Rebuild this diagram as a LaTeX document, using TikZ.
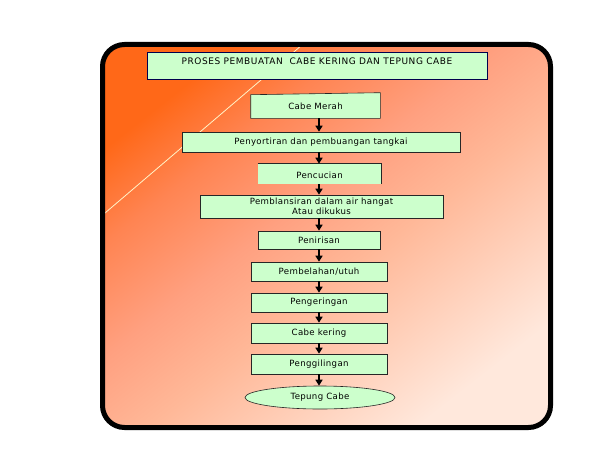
\documentclass[tikz,border=0pt]{standalone}
\usepackage{fontspec}
\setmainfont{DejaVu Sans}
\newfontfamily\boxfont[LetterSpace=4]{DejaVu Sans}
\newfontfamily\titlefont[LetterSpace=6]{DejaVu Sans}
\usetikzlibrary{arrows.meta,shapes.geometric}
\definecolor{boxgreen}{HTML}{CCFFCC}
\definecolor{orangeA}{HTML}{FF6818}
\definecolor{orangeM}{HTML}{FF8452}
\definecolor{orangeB}{HTML}{FFA080}
\definecolor{orangeD}{HTML}{FFB898}
\definecolor{orangeC}{HTML}{FFE8DC}
\definecolor{diagline}{HTML}{FFF4C8}
\pgfdeclareverticalshading{panelshade}{100bp}{color(0bp)=(orangeC); color(25bp)=(orangeC);
  color(45bp)=(orangeD); color(55bp)=(orangeB); color(66bp)=(orangeM); color(75bp)=(orangeA); color(100bp)=(orangeA)}
\tikzset{
  boxtext/.style={font=\boxfont\fontsize{8.6}{10.5}\selectfont, align=center},
  stepbox/.style={draw=black!85, line width=0.6pt, fill=boxgreen, inner sep=0pt, boxtext},
  arr/.style={line width=1.6pt, -{Triangle[width=7pt,length=6pt]}},
}
\begin{document}
\begin{tikzpicture}[x=1pt,y=-1pt]
\useasboundingbox (0,0) rectangle (612,468);
% background panel
\shade[shading=panelshade, shading angle=38, rounded corners=22pt] (102.5,44.5) rectangle (550.5,427.5);
\draw[diagline, line width=0.8pt] (302,45) -- (105,213);
\draw[line width=5pt, rounded corners=22pt] (102.5,44.5) rectangle (550.5,427.5);
% axis
\coordinate (ax) at (319,0);
% title
\node[stepbox, draw=black!70!blue, minimum width=340, minimum height=27] (title) at (317,65.5) {};
\node[font=\titlefont\fontsize{9}{10}\selectfont] (titletext) at (317,61) {PROSES PEMBUATAN\ \ CABE KERING DAN TEPUNG CABE};
% Cabe Merah with slanted top
\node[stepbox, draw=none, minimum width=129, minimum height=23] (cm) at (315.5,106.5) {};
\draw[stepbox] (cm.south west) -- (cm.north west) -- ([yshift=2pt]cm.north east) -- (cm.south east) -- cycle;
\node[boxtext] at (cm) {Cabe Merah};
% boxes
\node[stepbox, minimum width=278, minimum height=20] (ps) at (321,142) {Penyortiran dan pembuangan tangkai};
\node[stepbox, draw=none, minimum width=123, minimum height=20] (pc) at (319.5,174) {};
\draw[black!85, line width=0.6pt] (pc.north west) -- (pc.north east) -- (pc.south east);
\node[boxtext] at ([yshift=-1.5pt]pc.center) {Pencucian};
\node[stepbox, minimum width=243, minimum height=23] (pb) at (321.5,206.5) {Pemblansiran dalam air hangat\\Atau dikukus};
\node[stepbox, minimum width=122, minimum height=18] (pn) at (319,240) {Penirisan};
\node[stepbox, minimum width=136, minimum height=19] (pu) at (319,271.5) {Pembelahan/utuh};
\node[stepbox, minimum width=136, minimum height=19] (pg) at (319,302.5) {Pengeringan};
\node[stepbox, minimum width=136, minimum height=20] (ck) at (319,333) {Cabe kering};
\node[stepbox, minimum width=136, minimum height=20] (pl) at (319,364) {Penggilingan};
\node[stepbox, ellipse, minimum width=150, minimum height=23] (tc) at (320,397.5) {Tepung Cabe};
% arrows
\draw[arr] (cm.south -| ax) -- (ps.north -| ax);
\draw[arr] (ps.south -| ax) -- (pc.north -| ax);
\draw[arr] (pc.south -| ax) -- (pb.north -| ax);
\draw[arr] (pb.south -| ax) -- (pn.north -| ax);
\draw[arr] (pn.south -| ax) -- (pu.north -| ax);
\draw[arr] (pu.south -| ax) -- (pg.north -| ax);
\draw[arr] (pg.south -| ax) -- (ck.north -| ax);
\draw[arr] (ck.south -| ax) -- (pl.north -| ax);
\draw[arr] (pl.south -| ax) -- (tc.north -| ax);
\end{tikzpicture}
\end{document}
